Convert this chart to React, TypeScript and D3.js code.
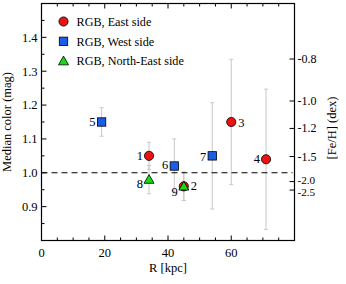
import React from "react";
import * as d3 from "d3";

const ids = ["1", "2", "3", "4", "5", "6", "7", "8", "9"];
const radius = [34, 45, 60, 71, 19, 42, 54, 34, 45];
const color = [1.05, 0.96, 1.15, 1.04, 1.15, 1.02, 1.05, 0.98, 0.96];
const errs = [0.04, 0.042, 0.185, 0.207, 0.042, 0.08, 0.157, 0.042, 0.042];
const kinds: ("east" | "west" | "ne")[] = ["east", "east", "east", "east", "west", "west", "west", "ne", "ne"];

const xTicks = [0, 20, 40, 60];
const yTicks = [0.9, 1.0, 1.1, 1.2, 1.3, 1.4];
const fehLabels = ["-0.8", "-1.0", "-1.2", "-1.5", "-2.0", "-2.5"];
const fehColor = [1.336, 1.212, 1.131, 1.048, 0.974, 0.949];

const legendLabels = ["RGB, East side", "RGB, West side", "RGB, North-East side"];

const W = 346, H = 284;
const L = 41.5, R = 294.5, T = 3.5, B = 240.5;
const FONT = "Liberation Serif";
const RED = "#ee1111", BLUE = "#1a5ee8", GREEN = "#11dd11";

const labelDx = [-6, 7, 7, -6, -6, -6, -6, -6, -6];
const labelDy = [4, 4, 5, 4, 4, 3, 5, 8, 10];
const fehNudge = [0, 0, 0, 0, -1.8, 1.8];

function Marker({ kind, x, y }: { kind: string; x: number; y: number }) {
  if (kind === "east") return <circle cx={x} cy={y} r={4.6} fill={RED} stroke="#000" strokeWidth={0.8} />;
  if (kind === "west") return <rect x={x - 4.2} y={y - 4.2} width={8.4} height={8.4} fill={BLUE} stroke="#000" strokeWidth={0.8} />;
  const s = 5;
  const p = d3.path();
  p.moveTo(x, y - s);
  p.lineTo(x + s, y + s * 0.75);
  p.lineTo(x - s, y + s * 0.75);
  p.closePath();
  return <path d={p.toString()} fill={GREEN} stroke="#000" strokeWidth={0.8} />;
}

const ts = { fontFamily: FONT } as React.CSSProperties;

export default function App() {
  const xs = d3.scaleLinear().domain([0, 80]).range([L, R]);
  const ys = d3.scaleLinear().domain([0.8, 1.5]).range([B, T]);

  const xMinor = d3.range(0, 80.01, 5);
  const yMinor = d3.range(0.8, 1.5001, 0.05);

  const order = [4, 5, 6, 2, 3, 0, 1, 7, 8];

  return (
    <svg width={W} height={H} style={{ position: "absolute", left: 0, top: 0, background: "#fff", fontFamily: FONT }}>
      {ids.map((id, i) => (
        <g key={"e" + id} stroke="#c8c8c8" strokeWidth={1}>
          <line x1={xs(radius[i])} x2={xs(radius[i])} y1={ys(color[i] - errs[i])} y2={ys(color[i] + errs[i])} />
          <line x1={xs(radius[i]) - 2} x2={xs(radius[i]) + 2} y1={ys(color[i] - errs[i])} y2={ys(color[i] - errs[i])} />
          <line x1={xs(radius[i]) - 2} x2={xs(radius[i]) + 2} y1={ys(color[i] + errs[i])} y2={ys(color[i] + errs[i])} />
        </g>
      ))}
      <line x1={L} x2={R - 2} y1={ys(1.0)} y2={ys(1.0)} stroke="#000" strokeWidth={1.1} strokeDasharray="6,4" />
      {order.map((i) => (
        <Marker key={"m" + i} kind={kinds[i]} x={xs(radius[i])} y={ys(color[i])} />
      ))}
      {ids.map((id, i) => (
        <text key={"l" + id} style={ts} x={xs(radius[i]) + labelDx[i]} y={ys(color[i]) + labelDy[i]} fontSize={12.5} textAnchor={labelDx[i] < 0 ? "end" : "start"} fill="#000">
          {id}
        </text>
      ))}
      <rect x={L} y={T} width={R - L} height={B - T} fill="none" stroke="#000" strokeWidth={1.2} />
      {xMinor.map((v) => {
        const major = Math.abs(v % 20) < 1e-6;
        const len = major ? 5 : 3;
        return (
          <g key={"xt" + v} stroke="#000" strokeWidth={1}>
            <line x1={xs(v)} x2={xs(v)} y1={B} y2={B - len} />
            <line x1={xs(v)} x2={xs(v)} y1={T} y2={T + len} />
          </g>
        );
      })}
      {xTicks.map((v) => (
        <text key={"xl" + v} style={ts} x={xs(v)} y={B + 16} fontSize={12.5} textAnchor="middle">{v}</text>
      ))}
      {yMinor.map((v) => {
        const major = Math.abs(Math.round(v * 10) - v * 10) < 1e-6;
        const len = major ? 5 : 3;
        return <line key={"yt" + v} x1={L} x2={L + len} y1={ys(v)} y2={ys(v)} stroke="#000" strokeWidth={1} />;
      })}
      {yTicks.map((v) => (
        <text key={"yl" + v} style={ts} x={L - 4} y={ys(v) + 4.3} fontSize={12.5} textAnchor="end">{d3.format(".1f")(v)}</text>
      ))}
      {fehColor.map((c, i) => (
        <g key={"fr" + i}>
          <line x1={R - 5} x2={R} y1={ys(c)} y2={ys(c)} stroke="#000" strokeWidth={1} />
          <text style={ts} x={R + 3} y={ys(c) + 4 + fehNudge[i]} fontSize={i >= 4 ? 11.2 : 12} textAnchor="start">{fehLabels[i]}</text>
        </g>
      ))}
      <text style={ts} x={(L + R) / 2} y={272} fontSize={12.5} textAnchor="middle">R [kpc]</text>
      <text style={ts} transform={`translate(11,${(T + B) / 2}) rotate(-90)`} fontSize={12.5} textAnchor="middle">Median color  (mag)</text>
      <text style={ts} transform={`translate(336,128) rotate(-90)`} fontSize={12.5} textAnchor="middle">[Fe/H] (dex)</text>
      {legendLabels.map((lab, i) => (
        <g key={"lg" + i}>
          <Marker kind={["east", "west", "ne"][i]} x={63.5} y={21.5 + i * 19.8} />
          <text style={ts} x={76.5} y={25.8 + i * 19.8} fontSize={12.2}>{lab}</text>
        </g>
      ))}
    </svg>
  );
}
